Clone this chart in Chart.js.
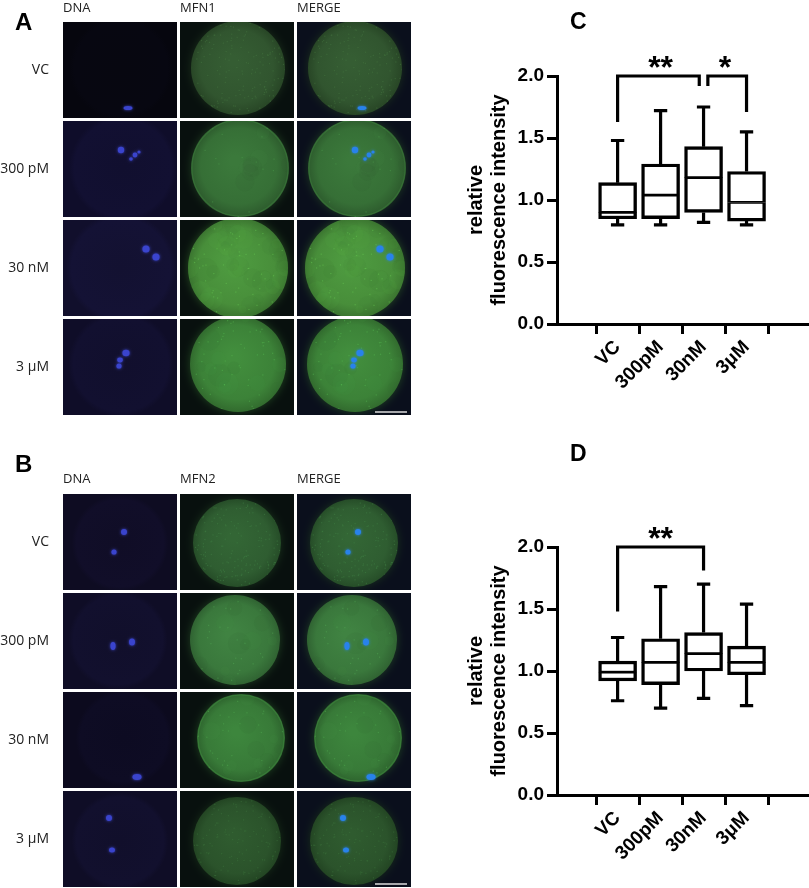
<!DOCTYPE html>
<html>
<head>
<meta charset="utf-8">
<script src="https://cdn.jsdelivr.net/npm/chart.js@4.4.1/dist/chart.umd.min.js"></script>
<style>
  body { margin: 0; background: #fff; width: 809px; height: 888px; position: relative; overflow: hidden; }
  #micro { position: absolute; left: 0; top: 0; }
  .box { position: absolute; }
  .letter { position: absolute; font: bold 23px "Liberation Sans", Arial, sans-serif; color: #000; }
</style>
</head>
<body>
<canvas id="micro" width="460" height="888"></canvas>
<div class="box" style="left:460px;top:0;width:349px;height:410px"><canvas id="chartC"></canvas></div>
<div class="box" style="left:460px;top:471px;width:349px;height:410px"><canvas id="chartD"></canvas></div>
<div class="letter" style="left:570px;top:8px">C</div>
<div class="letter" style="left:570px;top:440px">D</div>

<script>
// ---- box plot data ----
const groups = ['VC', '300pM', '30nM', '3μM'];
const yTicks = [0, 0.5, 1.0, 1.5, 2.0];

// C: MFN1
const mfn1Min    = [0.80, 0.80, 0.82, 0.80];
const mfn1Q1     = [0.85, 0.85, 0.90, 0.83];
const mfn1Median = [0.90, 1.04, 1.18, 0.98];
const mfn1Q3     = [1.14, 1.29, 1.43, 1.23];
const mfn1Max    = [1.48, 1.72, 1.75, 1.55];
const mfn1Sig = [
  { from: 0, to: 2, top: 2.0, leftEnd: 1.63, rightEnd: 1.92, stars: '**' },
  { from: 2, to: 3, top: 2.0, leftEnd: 1.92, rightEnd: 1.71, stars: '*' }
];

// D: MFN2
const mfn2Min    = [0.76, 0.70, 0.78, 0.72];
const mfn2Q1     = [0.92, 0.89, 1.00, 0.97];
const mfn2Median = [0.99, 1.07, 1.14, 1.07];
const mfn2Q3     = [1.08, 1.26, 1.31, 1.20];
const mfn2Max    = [1.27, 1.68, 1.70, 1.54];
const mfn2Sig = [
  { from: 0, to: 2, top: 2.0, leftEnd: 1.48, rightEnd: 1.81, stars: '**' }
];

// ---- micrograph panels ----
const rowLabels = ['VC', '300 pM', '30 nM', '3 μM'];
const colLeft = [63, 180, 297];
const tileW = 114, tileH = 96;

const panelA = {
  letter: 'A', letterY: 23, headerY: 8, headers: ['DNA', 'MFN1', 'MERGE'],
  rowTop: [22, 121, 220, 319],
  cells: [
    { dnaBg: [6, 6, 14], disc: [58, 46, 47], green: [50, 88, 48], speck: 140, blobs: 0,
      dots: [[65, 86, 4.5, 2]] },
    { dnaBg: [15, 13, 42], disc: [60, 47, 49], green: [56, 114, 56], speck: 15, blobs: 8, rim: true,
      dots: [[58, 29, 3.2, 3.2], [72, 34, 2.4, 2.4], [68, 38, 1.8, 1.8], [76, 31, 1.6, 1.6]] },
    { dnaBg: [17, 15, 44], disc: [58, 48, 50], green: [74, 146, 60], speck: 50, blobs: 40,
      dots: [[83, 29, 3.6, 3.6], [93, 37, 3.6, 3.6]] },
    { dnaBg: [15, 13, 40], disc: [58, 45, 48], green: [62, 134, 58], speck: 50, blobs: 12,
      dots: [[63, 34, 3.6, 3.2], [57, 41, 2.8, 2.4], [56, 47, 2.6, 2.6]] }
  ]
};
const panelB = {
  letter: 'B', letterY: 465, headerY: 479, headers: ['DNA', 'MFN2', 'MERGE'],
  rowTop: [494, 593, 692, 791],
  cells: [
    { dnaBg: [14, 12, 34], disc: [57, 49, 44], green: [48, 96, 50], speck: 150, blobs: 0,
      dots: [[61, 38, 3, 3], [51, 58, 2.6, 2.6]] },
    { dnaBg: [15, 13, 38], disc: [55, 47, 45], green: [60, 124, 62], speck: 25, blobs: 10,
      dots: [[50, 53, 2.6, 4], [69, 49, 3, 3.6]] },
    { dnaBg: [12, 10, 30], disc: [61, 46, 44], green: [58, 126, 58], speck: 30, blobs: 10, rim: true,
      dots: [[74, 85, 4.6, 3]] },
    { dnaBg: [15, 13, 38], disc: [57, 50, 44], green: [44, 86, 44], speck: 110, blobs: 0,
      dots: [[46, 27, 3, 3], [49, 59, 3, 2.5]] }
  ]
};

const mctx = document.getElementById('micro').getContext('2d');
let seed = 11;
function rnd() { seed = (seed * 16807) % 2147483647; return seed / 2147483647; }
function rgb(c, k = 1, a = 1) {
  const f = v => Math.max(0, Math.min(255, Math.round(v * k)));
  return `rgba(${f(c[0])},${f(c[1])},${f(c[2])},${a})`;
}

function drawTile(x, y, kind, cell, idx) {
  const ctx = mctx;
  ctx.save();
  ctx.beginPath(); ctx.rect(x, y, tileW, tileH); ctx.clip();
  const bg = kind === 'dna' ? cell.dnaBg : (kind === 'mfn' ? [8, 16, 14] : [10, 15, 28]);
  ctx.fillStyle = rgb(bg);
  ctx.fillRect(x, y, tileW, tileH);
  const cx = x + cell.disc[0], cy = y + cell.disc[1], r = cell.disc[2];

  if (kind === 'dna') {
    const g = ctx.createRadialGradient(cx, cy, 0, cx, cy, r * 1.1);
    g.addColorStop(0, rgb(bg, 1.12));
    g.addColorStop(0.9, rgb(bg, 1.2));
    g.addColorStop(1, rgb(bg, 1));
    ctx.fillStyle = g;
    ctx.beginPath(); ctx.arc(cx, cy, r * 1.1, 0, Math.PI * 2); ctx.fill();
  } else {
    const green = cell.green;
    ctx.shadowColor = rgb(green, 0.6, 0.8);
    ctx.shadowBlur = 9;
    const g = ctx.createRadialGradient(cx - r * 0.1, cy - r * 0.15, r * 0.1, cx, cy, r);
    g.addColorStop(0, rgb(green, 1.06));
    g.addColorStop(0.75, rgb(green, 0.97));
    g.addColorStop(1, rgb(green, 0.8));
    ctx.fillStyle = g;
    ctx.beginPath(); ctx.arc(cx, cy, r, 0, Math.PI * 2); ctx.fill();
    ctx.shadowBlur = 0;
    if (cell.rim) {
      ctx.strokeStyle = rgb(green, 1.25, 0.35);
      ctx.lineWidth = 1.2;
      ctx.beginPath(); ctx.arc(cx, cy, r - 1, 0, Math.PI * 2); ctx.stroke();
    }
    // texture
    seed = 100 + idx * 37;
    ctx.save();
    ctx.beginPath(); ctx.arc(cx, cy, r, 0, Math.PI * 2); ctx.clip();
    for (let k = 0; k < cell.blobs; k++) {
      const a = rnd() * Math.PI * 2, d = Math.sqrt(rnd()) * r;
      const br = 4 + rnd() * 8;
      ctx.fillStyle = rnd() > 0.5 ? rgb(green, 1.18, 0.1) : rgb(green, 0.8, 0.1);
      ctx.beginPath(); ctx.arc(cx + Math.cos(a) * d, cy + Math.sin(a) * d, br, 0, Math.PI * 2); ctx.fill();
    }
    for (let k = 0; k < cell.speck; k++) {
      const a = rnd() * Math.PI * 2, d = Math.sqrt(rnd()) * r;
      ctx.fillStyle = rgb(green, 1.4, 0.45);
      ctx.fillRect(cx + Math.cos(a) * d, cy + Math.sin(a) * d, 1.2, 1.2);
    }
    ctx.restore();
  }

  if (kind !== 'mfn') {
    ctx.fillStyle = kind === 'dna' ? 'rgb(58,68,205)' : 'rgb(40,130,235)';
    ctx.shadowColor = ctx.fillStyle;
    ctx.shadowBlur = 3;
    cell.dots.forEach(d => {
      ctx.beginPath();
      ctx.ellipse(x + d[0], y + d[1], d[2], d[3], 0, 0, Math.PI * 2);
      ctx.fill();
    });
    ctx.shadowBlur = 0;
  }
  ctx.restore();
}

function drawPanel(p, panelIdx) {
  const ctx = mctx;
  ctx.fillStyle = '#000';
  ctx.font = 'bold 24px "Liberation Sans", Arial, sans-serif';
  ctx.textBaseline = 'middle';
  ctx.textAlign = 'left';
  ctx.fillText(p.letter, 15, p.letterY);
  ctx.font = '13px "Open Sans", sans-serif';
  ctx.fillStyle = '#222';
  p.headers.forEach((h, c) => ctx.fillText(h, colLeft[c], p.headerY));
  ctx.font = '14px "Open Sans", sans-serif';
  ctx.textAlign = 'right';
  p.rowTop.forEach((t, r) => {
    ctx.fillText(rowLabels[r], 49, t + tileH / 2);
    const cell = p.cells[r];
    drawTile(colLeft[0], t, 'dna', cell, panelIdx * 10 + r);
    drawTile(colLeft[1], t, 'mfn', cell, panelIdx * 10 + r);
    drawTile(colLeft[2], t, 'merge', cell, panelIdx * 10 + r);
  });
  // scale bar
  const lastTop = p.rowTop[p.rowTop.length - 1];
  ctx.strokeStyle = '#ddd';
  ctx.lineWidth = 1.5;
  ctx.beginPath();
  ctx.moveTo(colLeft[2] + 78, lastTop + tileH - 3);
  ctx.lineTo(colLeft[2] + 110, lastTop + tileH - 3);
  ctx.stroke();
}
drawPanel(panelA, 0);
drawPanel(panelB, 1);

// ---- Chart.js box plots ----
const axisFont = { family: '"Liberation Sans", Arial, sans-serif', size: 19, weight: 'bold' };

function boxChart(id, mn, q1, med, q3, mx, sig) {
  const cap = 0.155;
  const whiskers = [];
  groups.forEach((g, i) => {
    whiskers.push(
      { x: i, y: q3[i] }, { x: i, y: mx[i] }, { x: i, y: null },
      { x: i - cap, y: mx[i] }, { x: i + cap, y: mx[i] }, { x: i, y: null },
      { x: i, y: q1[i] }, { x: i, y: mn[i] }, { x: i, y: null },
      { x: i - cap, y: mn[i] }, { x: i + cap, y: mn[i] }, { x: i, y: null }
    );
  });
  const brackets = [];
  sig.forEach(s => {
    const l = s.from + (sig.some(o => o !== s && o.to === s.from) ? 0.1 : 0);
    const r = s.to - (sig.some(o => o !== s && o.from === s.to) ? 0.1 : 0);
    brackets.push({ x: l, y: s.leftEnd }, { x: l, y: s.top }, { x: r, y: s.top }, { x: r, y: s.rightEnd }, { x: r, y: null });
  });

  const barCommon = {
    type: 'bar', backgroundColor: '#fff', borderColor: '#000', borderSkipped: false,
    barThickness: 38, grouped: false
  };

  return new Chart(document.getElementById(id), {
    type: 'bar',
    data: {
      datasets: [
        { ...barCommon, data: groups.map((g, i) => ({ x: i, y: [q1[i], med[i]] })),
          borderWidth: { top: 1.7, bottom: 3.4, left: 3.4, right: 3.4 } },
        { ...barCommon, data: groups.map((g, i) => ({ x: i, y: [med[i], q3[i]] })),
          borderWidth: { top: 3.4, bottom: 1.7, left: 3.4, right: 3.4 } },
        { type: 'line', data: whiskers, borderColor: '#000', borderWidth: 3.2, pointRadius: 0,
          spanGaps: false, tension: 0, borderCapStyle: 'butt' },
        { type: 'line', data: brackets, borderColor: '#000', borderWidth: 3.2, pointRadius: 0,
          spanGaps: false, tension: 0, borderJoinStyle: 'miter', clip: false }
      ]
    },
    options: {
      responsive: true,
      maintainAspectRatio: false,
      animation: false,
      layout: { padding: { top: 76, right: 1, bottom: 0, left: 0 } },
      plugins: { legend: { display: false }, tooltip: { enabled: false } },
      scales: {
        x: {
          type: 'linear', min: -0.68, max: 3.7,
          afterBuildTicks: s => { s.ticks = groups.map((g, i) => ({ value: i })); },
          afterFit: s => { s.height = 86; },
          ticks: { callback: v => groups[v], autoSkip: false, minRotation: 45, maxRotation: 45,
                   padding: 2, color: '#000', font: axisFont },
          grid: { drawOnChartArea: false, tickLength: 10, lineWidth: 3, color: '#000' },
          border: { color: '#000', width: 3 }
        },
        y: {
          min: 0, max: 2,
          afterBuildTicks: s => { s.ticks = yTicks.map(v => ({ value: v })); },
          afterFit: s => { s.width = 97; },
          ticks: { callback: v => v.toFixed(1), padding: 3, color: '#000', font: axisFont },
          grid: { drawOnChartArea: false, tickLength: 10, lineWidth: 3, color: '#000' },
          border: { color: '#000', width: 3 },
          title: {
            display: true, text: ['relative', 'fluorescence intensity'], color: '#000',
            font: { family: '"Liberation Sans", Arial, sans-serif', size: 20, weight: 'bold', lineHeight: 1.15 },
            padding: { top: 5, bottom: 0 }
          }
        }
      }
    },
    plugins: [{
      id: 'sigStars',
      afterDatasetsDraw(chart) {
        const { ctx, scales: { x, y } } = chart;
        ctx.save();
        ctx.font = 'bold 32px "Liberation Sans", Arial, sans-serif';
        ctx.textAlign = 'center';
        ctx.textBaseline = 'alphabetic';
        ctx.fillStyle = '#000';
        sig.forEach(s => ctx.fillText(s.stars, x.getPixelForValue((s.from + s.to) / 2), y.getPixelForValue(s.top) + 2));
        ctx.restore();
      }
    }]
  });
}

boxChart('chartC', mfn1Min, mfn1Q1, mfn1Median, mfn1Q3, mfn1Max, mfn1Sig);
boxChart('chartD', mfn2Min, mfn2Q1, mfn2Median, mfn2Q3, mfn2Max, mfn2Sig);
</script>
</body>
</html>
